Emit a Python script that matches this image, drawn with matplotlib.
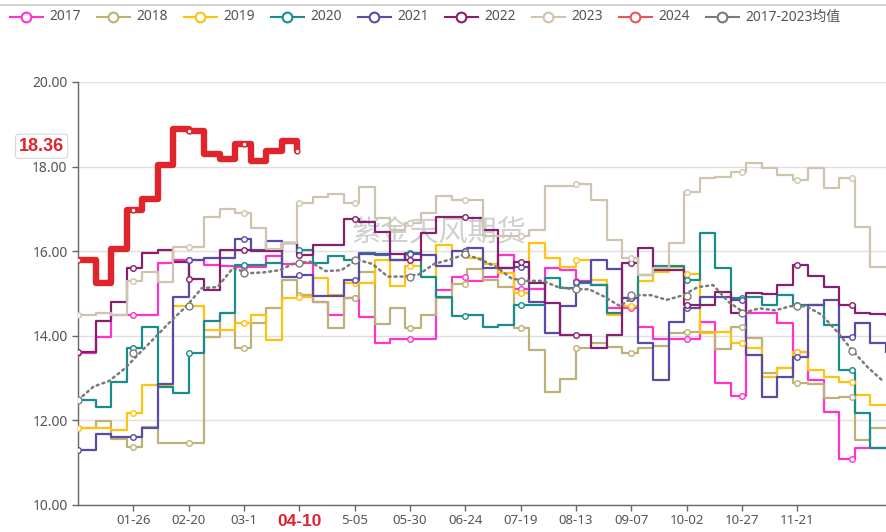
import matplotlib
matplotlib.use('Agg')
import matplotlib.pyplot as plt
import matplotlib.transforms as mtransforms
from matplotlib.lines import Line2D
import numpy as np

plt.rcParams['font.family'] = ['Noto Sans', 'Noto Sans CJK SC', 'DejaVu Sans']

# weekly prices, week k starts on day 7k+1 (day 0 for the first week)
week_days = np.array([0] + [7 * k + 1 for k in range(1, 53)])
avg_days = np.array([7 * k for k in range(53)])

y2017 = [13.6, 13.97, 14.5, 14.5, 14.5, 15.72, 15.79, 15.79, 15.67, 15.64,
         15.62, 15.62, 15.89, 15.7, 15.72, 14.8, 14.5, 14.89, 14.45, 13.83,
         13.92, 13.92, 13.92, 15.08, 15.38, 15.3, 15.38, 15.91, 15.1, 15.1,
         15.6, 15.55, 15.3, 15.2, 14.66, 14.66, 14.2, 13.92, 13.92, 13.92,
         14.33, 12.88, 12.58, 14.54, 14.54, 14.3, 13.62, 12.95, 12.2, 11.09,
         11.35, 11.35, 11.35]
y2018 = [11.82, 11.99, 11.55, 11.37, 11.84, 11.47, 11.47, 11.47, 13.97, 14.54,
         13.7, 14.3, 14.66, 15.32, 14.96, 14.8, 14.18, 14.9, 15.5, 14.28,
         14.66, 14.18, 14.5, 14.9, 15.22, 15.57, 15.32, 15.15, 14.18, 13.67,
         12.67, 12.97, 13.71, 13.83, 13.74, 13.6, 13.71, 13.75, 14.06, 14.09,
         14.09, 13.69, 14.2, 13.94, 13.13, 13.23, 12.88, 12.85, 12.53, 12.56,
         11.54, 11.82, 11.82]
y2019 = [11.82, 11.82, 11.77, 12.17, 12.84, 12.84, 14.7, 14.7, 14.14, 14.14,
         14.3, 14.5, 13.9, 14.89, 14.92, 15.37, 14.96, 15.24, 15.24, 15.79,
         15.17, 15.65, 15.4, 16.15, 16.0, 15.84, 15.7, 15.48, 15.0, 16.2,
         15.84, 15.63, 15.8, 15.32, 14.5, 14.7, 15.3, 15.5, 15.63, 15.45,
         14.06, 14.09, 13.83, 13.71, 13.03, 13.23, 13.62, 13.19, 13.03, 12.91,
         12.6, 12.36, 12.36]
y2020 = [12.48, 12.32, 12.91, 13.71, 14.2, 12.79, 12.65, 13.59, 14.35, 14.54,
         15.67, 15.67, 15.72, 16.2, 16.03, 15.72, 15.89, 15.79, 15.96, 15.9,
         15.79, 15.95, 15.4, 14.92, 14.47, 14.5, 14.2, 14.25, 14.73, 14.73,
         15.37, 15.13, 15.25, 15.2, 14.54, 14.9, 15.43, 15.65, 15.65, 15.32,
         16.43, 15.6, 14.9, 14.92, 14.73, 14.96, 14.73, 14.73, 14.25, 13.19,
         12.17, 11.35, 11.35]
y2021 = [11.3, 11.68, 11.6, 11.6, 11.82, 12.86, 14.92, 15.79, 15.84, 15.84,
         16.3, 16.03, 16.24, 15.4, 15.43, 14.94, 14.94, 15.32, 15.93, 15.93,
         15.8, 15.93, 15.9, 15.65, 16.0, 16.07, 15.6, 15.6, 15.63, 14.8,
         14.06, 14.7, 15.27, 15.79, 15.57, 14.89, 13.83, 12.95, 14.33, 14.66,
         14.92, 14.92, 14.85, 13.55, 12.56, 13.03, 13.5, 14.73, 14.85, 13.97,
         14.3, 13.83, 13.62]
y2022 = [13.62, 14.35, 14.8, 15.6, 15.96, 16.03, 15.75, 15.34, 15.08, 16.03,
         16.03, 16.0, 16.0, 16.2, 15.91, 16.15, 16.15, 16.76, 16.69, 16.45,
         15.93, 15.79, 16.43, 16.81, 16.81, 16.78, 16.5, 15.6, 15.75, 15.25,
         14.77, 14.02, 14.02, 13.71, 14.02, 15.72, 16.07, 15.55, 15.55, 14.73,
         14.73, 15.04, 14.54, 15.0, 14.98, 15.2, 15.67, 15.41, 15.15, 14.73,
         14.54, 14.52, 14.5]
y2023 = [14.5, 14.55, 14.5, 15.3, 15.5, 15.27, 16.1, 16.1, 16.8, 17.0,
         16.9, 16.55, 16.05, 16.2, 17.14, 17.28, 17.35, 17.14, 17.52, 16.78,
         16.5, 16.67, 16.9, 17.3, 17.2, 17.2, 16.35, 16.35, 16.35, 16.5,
         17.54, 17.54, 17.6, 17.2, 16.27, 15.84, 15.43, 15.6, 16.2, 17.4,
         17.72, 17.75, 17.87, 18.08, 17.96, 17.8, 17.68, 17.96, 17.49, 17.73,
         16.57, 15.63, 15.63]
y2024 = [15.8, 15.25, 16.05, 16.97, 17.23, 18.04, 18.89, 18.84, 18.30, 18.18,
         18.53, 18.13, 18.37, 18.6, 18.36]
y_avg = [12.48, 12.8, 12.93, 13.22, 13.6, 13.97, 14.35, 14.7, 15.13, 15.15,
         15.6, 15.48, 15.5, 15.55, 15.72, 15.75, 15.53, 15.55, 15.8, 15.7,
         15.4, 15.4, 15.45, 15.7, 15.8, 15.93, 15.8, 15.63, 15.35, 15.3,
         15.3, 15.15, 15.1, 15.1, 14.92, 14.7, 14.96, 14.96, 14.85, 14.95,
         15.15, 15.2, 14.8, 14.55, 14.65, 14.6, 14.7, 14.7, 14.5, 14.1,
         13.65, 13.25, 12.92]

tick_days = [25 * i for i in range(1, 14)]
tick_labels = ['01-26', '02-20', '03-1', '04-10', '5-05', '05-30', '06-24',
               '07-19', '08-13', '09-07', '10-02', '10-27', '11-21']
marker_days = np.arange(0, 351, 25)

series = [
    ('2017', y2017, '#ff33cc'),
    ('2018', y2018, '#bdb178'),
    ('2019', y2019, '#ffc20e'),
    ('2020', y2020, '#1a8c8c'),
    ('2021', y2021, '#5a4ba8'),
    ('2022', y2022, '#861f6c'),
    ('2023', y2023, '#cfc4ae'),
]
red = '#e0242b'
grey = '#7a7a7a'

W, H = 887, 532
fig = plt.figure(figsize=(W / 100, H / 100), dpi=100)
ax = fig.add_axes([78 / W, (H - 505) / H, (W - 78) / W, (505 - 82) / H])

# historical years as weekly step lines
for name, vals, color in series:
    vals = np.array(vals)
    ax.plot(week_days, vals, drawstyle='steps-post', color=color, lw=1.6, zorder=3)
    idx = np.searchsorted(week_days, marker_days, side='right') - 1
    ax.plot(marker_days, vals[idx], 'o', ms=4, mfc='white', mec=color, mew=1, zorder=4)

# average line
avg = np.array(y_avg)
ax.plot(avg_days, avg, color=grey, lw=1.8, ls=(0, (0.8, 1.6)), dash_capstyle='round', zorder=5)
ax.plot(marker_days, avg[np.round(marker_days / 7).astype(int)], 'o', ms=5,
        mfc='white', mec=grey, mew=1, zorder=5)

# current year
r = np.array(y2024)
rd = week_days[:len(r)]
ax.plot(rd, r, drawstyle='steps-post', color=red, lw=4.6, solid_joinstyle='round',
        solid_capstyle='round', zorder=6)
ridx = np.searchsorted(rd, marker_days[marker_days < rd[-1]], side='right') - 1
ax.plot(np.append(marker_days[marker_days < rd[-1]], rd[-1]), np.append(r[ridx], r[-1]),
        'o', ms=3.5, mfc='white', mec=red, mew=1, zorder=7)

# axes styling
ax.set_xlim(0, 365.6)
ax.set_ylim(10, 20)
ax.set_yticks(np.arange(10, 21, 2))
ax.set_yticklabels(['%.2f' % v for v in np.arange(10, 21, 2)])
ax.set_xticks(tick_days)
ax.set_xticklabels(tick_labels)
for s in ['top', 'right']:
    ax.spines[s].set_visible(False)
for s in ['left', 'bottom']:
    ax.spines[s].set_color('#666666')
    ax.spines[s].set_linewidth(1)
ax.tick_params(axis='both', colors='#666666', length=4, width=1, labelcolor='#555555', labelsize=10)
ax.tick_params(axis='x', pad=2.5, labelsize=9.5)
ax.yaxis.grid(True, color='#e0e0e0', lw=1)
ax.set_axisbelow(True)

lbl = ax.get_xticklabels()[3]
lbl.set_color(red)
lbl.set_family('Liberation Sans')
lbl.set_fontweight('bold')
lbl.set_fontsize(12.5)

# current value label at the y axis
trans = mtransforms.blended_transform_factory(ax.transAxes, ax.transData)
ax.text(-0.045, 18.48, '18.36', transform=trans, ha='center', va='center',
        color=red, fontsize=13, fontweight='bold', family='Liberation Sans', clip_on=False,
        bbox=dict(boxstyle='round,pad=0.2', fc='white', ec='#d8d8d8', lw=0.8))

# watermark
ax.text(163, 16.45, '紫金天风期货', ha='center', va='center', fontsize=21,
        color='#c4c4c4', alpha=0.8, family='Noto Sans CJK SC', zorder=1)

# top border and legend
fig.add_artist(Line2D([0, 1], [1 - 5 / H] * 2, color='#cccccc', lw=1.2))
legend_items = [(n, c) for n, _, c in series] + [('2024', '#e8545a'), ('2017-2023均值', grey)]
ly = 1 - 17 / H
for i, (name, color) in enumerate(legend_items):
    x0 = 10 + 87 * i
    fig.add_artist(Line2D([x0 / W, (x0 + 33) / W], [ly, ly], color=color, lw=1.5))
    fig.add_artist(Line2D([(x0 + 16.5) / W], [ly], marker='o', ms=7, mfc='white',
                          mec=color, mew=1.5))
    fig.text((x0 + 39) / W, ly, name, ha='left', va='center', fontsize=10, color='#555555')

fig.savefig('out.png', dpi=100)
